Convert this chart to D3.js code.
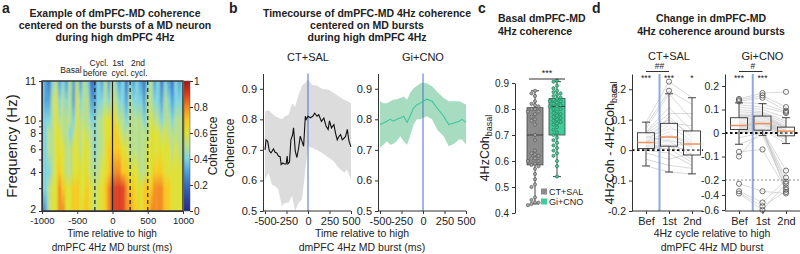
<!DOCTYPE html>
<html>
<head>
<meta charset="utf-8">
<script src="https://cdn.jsdelivr.net/npm/d3@7"></script>
<style>
  body { margin: 0; background: #fff; }
  svg text { font-family: "Liberation Sans", Arial, sans-serif; fill: #222; }
</style>
</head>
<body>
<div id="fig"></div>
<script>
// ---------- panel a : coherence heatmap (values 0-9 -> 0.0-0.9) ----------
var hmFreqs = [11, 10.5, 10, 8, 6, 4, 3, 2];
var hmRows = [
  "43245" + "34353" + "53542" + "24353" + "64342" + "43432" + "45342" + "43243" + "4",
  "43356" + "45453" + "64553" + "34454" + "65443" + "54443" + "55443" + "54344" + "4",
  "44456" + "55554" + "65554" + "45566" + "76554" + "55554" + "56554" + "55455" + "5",
  "44556" + "65545" + "65655" + "45566" + "77655" + "55555" + "56665" + "65555" + "5",
  "44556" + "66556" + "65665" + "45567" + "77766" + "55555" + "66666" + "66565" + "5",
  "44456" + "76556" + "66665" + "55667" + "88877" + "66655" + "66777" + "66666" + "6",
  "44566" + "87667" + "76676" + "56678" + "99998" + "77667" + "77888" + "77666" + "6",
  "23566" + "88667" + "76776" + "56678" + "99998" + "87767" + "78888" + "77666" + "6"
];
var hmTimes = d3.range(-1000, 1001, 50);
var hmMarkers = [-250, 250, 500];

// ---------- panel b : 4Hz coherence timecourse ----------
var ctTimes = [-500,-488,-469,-449,-430,-402,-383,-363,-344,-324,-312,-293,-273,-254,-242,-234,-215,-199,-180,-168,-148,-129,-109,-90,-70,-51,-31,-20,0,27,55,78,105,125,156,184,211,234,250,273,301,320,340,359,379,398,418,437,457,477,500];
var ctMean = [0.70,0.733,0.728,0.696,0.69,0.703,0.692,0.69,0.68,0.678,0.652,0.657,0.654,0.654,0.68,0.654,0.66,0.733,0.748,0.772,0.696,0.675,0.707,0.745,0.728,0.712,0.81,0.80,0.81,0.805,0.81,0.82,0.81,0.815,0.793,0.804,0.777,0.767,0.795,0.772,0.783,0.755,0.733,0.744,0.75,0.733,0.738,0.744,0.767,0.728,0.71];
var bandTimes = [-500,-460,-420,-380,-345,-305,-265,-225,-185,-150,-110,-70,-30,0,45,105,165,240,300,360,420,455,500];
var ctUpper = [0.826,0.83,0.82,0.81,0.805,0.80,0.81,0.815,0.853,0.84,0.88,0.91,0.92,0.93,0.913,0.91,0.90,0.897,0.886,0.875,0.864,0.86,0.853];
var ctLower = [0.603,0.625,0.587,0.58,0.57,0.516,0.527,0.527,0.55,0.50,0.527,0.538,0.636,0.712,0.707,0.70,0.69,0.674,0.663,0.64,0.625,0.636,0.603];
var giMean  = [0.783,0.788,0.794,0.80,0.794,0.80,0.804,0.81,0.79,0.81,0.837,0.848,0.853,0.859,0.866,0.859,0.837,0.81,0.783,0.788,0.794,0.80,0.79];
var giUpper = [0.859,0.853,0.853,0.859,0.864,0.866,0.87,0.875,0.864,0.886,0.902,0.91,0.918,0.92,0.918,0.908,0.89,0.87,0.859,0.859,0.859,0.855,0.848];
var giLower = [0.707,0.717,0.728,0.717,0.72,0.728,0.745,0.728,0.717,0.745,0.783,0.80,0.80,0.804,0.81,0.80,0.766,0.745,0.712,0.72,0.734,0.734,0.717];

// ---------- panel c : basal coherence per recording ----------
var groups = ["CT+SAL", "Gi+CNO"];
var basalCT = [0.87,0.86,0.85,0.83,0.82,0.815,0.81,0.80,0.80,0.79,0.79,0.78,0.77,0.76,0.755,0.74,0.70,0.68,0.64,0.63,0.625,0.62,0.61,0.61,0.60,0.60,0.59,0.585,0.58,0.57,0.55,0.53,0.51,0.50,0.46,0.45,0.44,0.44,0.435,0.43];
var basalGi = [0.91,0.905,0.89,0.88,0.87,0.865,0.86,0.855,0.85,0.845,0.84,0.835,0.83,0.83,0.825,0.82,0.815,0.81,0.81,0.80,0.80,0.79,0.785,0.78,0.775,0.77,0.765,0.76,0.755,0.75,0.745,0.74,0.73,0.72,0.71,0.70,0.69,0.68,0.67,0.66,0.65,0.64,0.63,0.62,0.60,0.58,0.54];
var basalBox = [[0.435, 0.585, 0.70, 0.805, 0.87], [0.54, 0.70, 0.81, 0.84, 0.905]]; // lo, q1, med, q3, hi

// ---------- panel d : change around bursts ----------
var cycles = ["Bef", "1st", "2nd"];
var ctPairs = [
  [0.09,0.225,0.172],[0.08,0.195,0.15],[0.07,0.185,0.10],[0.06,0.14,0.063],[0.058,0.12,0.12],
  [0.055,0.10,0.05],[0.05,0.088,0.08],[0.045,0.03,0.02],[0.04,0.07,0.06],[0.035,0.08,0.03],
  [0.03,0.06,-0.016],[0.028,0.05,0.025],[0.025,0.045,0.02],[0.022,0.11,0.04],[0.02,0.035,0.01],
  [0.015,0.03,-0.02],[0.012,0.02,0.015],[0.01,0.015,-0.03],[0.006,0.012,0.0],[0.005,0.005,-0.04],
  [0.0,-0.01,-0.05],[-0.01,-0.03,-0.01],[-0.03,-0.05,-0.06],[-0.052,-0.072,-0.078]
];
var giPairs = [
  [0.145,0.17,0.175],[0.14,0.16,0.11],[0.135,0.15,0.095],[0.13,0.125,0.09],[0.12,0.11,0.085],
  [0.11,0.10,0.065],[0.10,0.09,0.05],[0.09,0.085,0.04],[0.08,0.08,0.03],[0.075,0.075,0.025],
  [0.07,0.072,0.02],[0.065,0.07,0.02],[0.06,0.065,0.015],[0.055,0.06,0.01],[0.05,0.055,0.01],
  [0.045,0.05,0.008],[0.04,0.048,0.005],[0.035,0.045,0.0],[0.032,0.042,0.0],[0.03,0.04,-0.005],
  [0.028,0.038,-0.01],[0.025,0.035,-0.012],[0.022,0.03,-0.015],[0.02,0.025,-0.02],[0.018,0.02,-0.03],
  [0.015,0.015,-0.045],[0.01,0.012,-0.16],[0.005,0.01,-0.19],[0.0,0.005,-0.22],[-0.02,0.0,-0.25],
  [-0.048,-0.01,-0.3],[-0.08,-0.07,-0.33],[-0.1,0.02,-0.36],[-0.25,-0.35,-0.38],[-0.35,-0.5,-0.2],
  [-0.37,-0.55,-0.35],[-0.38,-0.6,-0.25]
];
var ctBox = [[-0.052,0.005,0.025,0.057,0.092],[-0.072,0.013,0.043,0.088,0.185],[-0.078,-0.016,0.02,0.063,0.172]];
var giBox = [[-0.048,0.015,0.032,0.065,0.128],[-0.01,0.012,0.04,0.072,0.125],[-0.045,-0.012,0.008,0.025,0.065]];
var ctOut = [["1st",0.195],["1st",0.225]];
var giOut = [["Bef",0.145],["Bef",0.14],["Bef",0.135],["Bef",-0.08],["Bef",-0.1],["Bef",-0.25],["Bef",-0.35],["Bef",-0.38],
  ["1st",0.17],["1st",0.16],["1st",0.15],["1st",-0.07],["1st",-0.35],["1st",-0.5],["1st",-0.55],["1st",-0.6],
  ["2nd",0.175],["2nd",0.11],["2nd",0.095],["2nd",0.09],["2nd",0.085],["2nd",-0.16],["2nd",-0.19],["2nd",-0.22],
  ["2nd",-0.25],["2nd",-0.3],["2nd",-0.33],["2nd",-0.36],["2nd",-0.38]];

function init() {
    var svg = d3.select("#fig").append("svg")
                .attr("width", 800)
                .attr("height", 254);

    // little helper for plain text
    function label(x, y, s, size, anchor, weight) {
        return svg.append("text")
                  .attr("x", x).attr("y", y)
                  .attr("font-size", size)
                  .attr("text-anchor", anchor || "middle")
                  .attr("font-weight", weight || "normal")
                  .text(s);
    }
    function styleAxis(g, size) {
        g.attr("font-family", null).attr("font-size", size);
        g.selectAll("path.domain").attr("stroke", "#333");
        g.selectAll(".tick line").attr("stroke", "#333");
        g.selectAll(".tick text").attr("fill", "#222");
        return g;
    }
    // plain hyphen instead of the unicode minus d3 uses
    function hy(f) { return function(d) { return f(d).replace("\u2212", "-"); }; }

    // colour map similar to matlab jet
    var jet = d3.scaleLinear()
        .domain([0, 0.15, 0.3, 0.4, 0.5, 0.6, 0.7, 0.8, 0.9, 1])
        .range(["#262a8c", "#2f55b5", "#4aa0dc", "#7dd3e0", "#b5de8c", "#dde030", "#f8c81c", "#f28a1e", "#dc3a1a", "#a01818"]);

    // ================= panel a =================
    label(2, 13, "a", 14, "start", "bold");
    ["Example of dmPFC-MD coherence", "centered on the bursts of a MD neuron", "during high dmPFC 4Hz"]
        .forEach(function(s, i) { label(115, 17 + i * 12, s, 10.5, "middle", "bold"); });

    var xA = d3.scaleLinear().domain([-1000, 1000]).range([42, 183]);
    var yA = d3.scaleLog().domain([2, 10, 11]).range([211, 120.5, 81]);
    var top = yA(11), bot = yA(2);

    var defs = svg.append("defs");
    defs.append("clipPath").attr("id", "hmclip")
        .append("rect").attr("x", xA(-1000)).attr("y", top)
        .attr("width", xA(1000) - xA(-1000)).attr("height", bot - top);
    defs.append("filter").attr("id", "hblur")
        .attr("x", "-5%").attr("width", "110%")
        .append("feGaussianBlur").attr("stdDeviation", "1.3 0");

    hmTimes.forEach(function(t, i) {
        var g = defs.append("linearGradient").attr("id", "hg" + i)
                    .attr("x1", 0).attr("y1", 0).attr("x2", 0).attr("y2", 1);
        hmFreqs.forEach(function(f, r) {
            g.append("stop")
             .attr("offset", (yA(f) - top) / (bot - top))
             .attr("stop-color", jet(+hmRows[r][i] / 10));
        });
    });

    svg.append("g").attr("clip-path", "url(#hmclip)")
       .append("g").attr("filter", "url(#hblur)")
       .selectAll("rect")
       .data(hmTimes)
       .enter()
       .append("rect")
       .attr("x", function(t) { return xA(t - 25 - (t === -1000 ? 60 : 0)); })
       .attr("width", function(t) { return xA(t + 26 + (t === 1000 ? 60 : 0)) - xA(t - 25 - (t === -1000 ? 60 : 0)); })
       .attr("y", top)
       .attr("height", bot - top)
       .attr("fill", function(t, i) { return "url(#hg" + i + ")"; });

    svg.append("line").attr("x1", xA(0)).attr("x2", xA(0)).attr("y1", top).attr("y2", bot)
       .attr("stroke", "#222").attr("stroke-width", 1.2);
    svg.selectAll("line.mk").data(hmMarkers).enter().append("line")
       .attr("x1", function(d) { return xA(d); }).attr("x2", function(d) { return xA(d); })
       .attr("y1", top).attr("y2", bot)
       .attr("stroke", "#222").attr("stroke-width", 1.2).attr("stroke-dasharray", "4,3");
    svg.append("rect").attr("x", xA(-1000)).attr("y", top)
       .attr("width", xA(1000) - xA(-1000)).attr("height", bot - top)
       .attr("fill", "none").attr("stroke", "#333").attr("stroke-width", 1.5);

    label(71, 73, "Basal", 8.5);
    label(99, 66, "Cycl.", 8.5); label(95, 76, "before", 8.5);
    label(118, 66, "1st", 8.5);  label(120, 76, "cycl.", 8.5);
    label(138, 66, "2nd", 8.5);  label(139, 76, "cycl.", 8.5);

    styleAxis(svg.append("g").attr("transform", "translate(0," + bot + ")")
       .call(d3.axisBottom(xA).tickValues([-1000, -500, 0, 500, 1000]).tickSize(3).tickPadding(3).tickSizeOuter(0)
               .tickFormat(hy(d3.format("d")))), 9.5);
    var gyA = styleAxis(svg.append("g").attr("transform", "translate(" + xA(-1000) + ",0)")
       .call(d3.axisLeft(yA).tickValues([2, 3, 4, 5, 6, 7, 8, 9, 10, 11]).tickSize(3).tickSizeOuter(0)
               .tickFormat(function(d) { return [2, 4, 6, 8, 10, 11].indexOf(d) >= 0 ? d : ""; })), 10.5);
    // lift the bottom label a touch so it clears the -1000 below it
    gyA.selectAll(".tick text").filter(function(d) { return d === 2; }).attr("dy", "0.1em");
    label(0, 0, "Frequency (Hz)", 15).attr("transform", "translate(17,146) rotate(-90)");
    label(112, 237, "Time relative to high", 10);
    label(112, 251, "dmPFC 4Hz MD burst (ms)", 10);

    // colour bar
    var cb = defs.append("linearGradient").attr("id", "cbar")
                 .attr("x1", 0).attr("y1", 1).attr("x2", 0).attr("y2", 0);
    d3.range(0, 1.01, 0.1).forEach(function(v) {
        cb.append("stop").attr("offset", v).attr("stop-color", jet(v));
    });
    var yCb = d3.scaleLinear().domain([0, 1]).range([bot, top]);
    svg.append("rect").attr("x", 184).attr("y", top).attr("width", 6).attr("height", bot - top)
       .attr("fill", "url(#cbar)").attr("stroke", "#555").attr("stroke-width", 0.5);
    var gcb = svg.append("g").attr("transform", "translate(190,0)")
       .call(d3.axisRight(yCb).tickValues([0, 0.2, 0.4, 0.6, 0.8, 1]).tickSize(3).tickPadding(1)
               .tickFormat(function(d) { return d === 0 || d === 1 ? d : d3.format(".1f")(d); }));
    styleAxis(gcb, 10).select("path.domain").remove();
    label(0, 0, "Coherence", 12).attr("transform", "translate(217,146) rotate(-90)");

    // ================= panel b =================
    label(229, 13, "b", 14, "start", "bold");
    ["Timecourse of dmPFC-MD 4Hz coherence", "centered on MD bursts", "during high dmPFC 4Hz"]
        .forEach(function(s, i) { label(367, 17 + i * 12, s, 10.5, "middle", "bold"); });

    var yB = d3.scaleLinear().domain([0.5, 0.95]).range([211, 73.5]);
    var panelsB = [
        {x0: 265, x1: 351, ax: 263, name: "CT+SAL", mean: ctMean, times: ctTimes, up: ctUpper, lo: ctLower,
         band: "#dcdcdc", line: "#111"},
        {x0: 380, x1: 466, ax: 378, name: "Gi+CNO", mean: giMean, times: bandTimes, up: giUpper, lo: giLower,
         band: "#a7dcc0", line: "#3cc79e"}
    ];
    panelsB.forEach(function(p) {
        var x = d3.scaleLinear().domain([-500, 500]).range([p.x0, p.x1]);
        var area = d3.area()
            .x(function(d, i) { return x(bandTimes[i]); })
            .y0(function(d, i) { return yB(p.lo[i]); })
            .y1(function(d) { return yB(d); });
        svg.append("path").datum(p.up).attr("d", area).attr("fill", p.band);
        svg.append("line").attr("x1", x(0)).attr("x2", x(0)).attr("y1", yB(0.95)).attr("y2", yB(0.5))
           .attr("stroke", "#4a6fd0").attr("stroke-width", 1);
        var line = d3.line()
            .x(function(d, i) { return x(p.times[i]); })
            .y(function(d) { return yB(d); });
        svg.append("path").datum(p.mean).attr("d", line)
           .attr("fill", "none").attr("stroke", p.line).attr("stroke-width", 1.1);
        styleAxis(svg.append("g").attr("transform", "translate(" + p.ax + ",0)")
           .call(d3.axisLeft(yB).tickValues([0.5, 0.6, 0.7, 0.8, 0.9]).tickSize(3).tickSizeOuter(0)
                   .tickFormat(d3.format(".1f"))), 11);
        var gx = svg.append("g").attr("transform", "translate(0,211)")
           .call(d3.axisBottom(x).tickValues([-500, -250, 0, 250, 500]).tickSize(3).tickSizeOuter(0)
                   .tickFormat(hy(d3.format("d"))));
        styleAxis(gx, 11);
        gx.select("path.domain").attr("d", "M" + p.ax + ",0H" + p.x1);
        label((p.x0 + p.x1) / 2, 61, p.name, 11);
    });
    label(0, 0, "Coherence", 12).attr("transform", "translate(234,148) rotate(-90)");
    label(362, 237, "Time relative to high", 10.5);
    label(362, 251, "dmPFC 4Hz MD burst (ms)", 10.5);

    // ================= panel c =================
    label(478, 13, "c", 14, "start", "bold");
    label(498, 22, "Basal dmPFC-MD", 10.5, "start", "bold");
    label(498, 35, "4Hz coherence", 10.5, "start", "bold");

    var yC = d3.scaleLinear().domain([0.4, 0.9]).range([213, 83]);
    var xC = d3.scalePoint().domain(groups).range([535, 557]);
    var fillC = ["#8c8c8c", "#41cc9b"], strokeC = ["#4d4d4d", "#1f6e4e"];
    var ptFill = ["#a6a6a6", "#46c896"];

    [basalCT, basalGi].forEach(function(vals, k) {
        var cx = xC(groups[k]), b = basalBox[k];
        svg.append("line").attr("x1", cx).attr("x2", cx).attr("y1", yC(b[0])).attr("y2", yC(b[4]))
           .attr("stroke", "#444");
        [b[0], b[4]].forEach(function(v) {
            svg.append("line").attr("x1", cx - 4).attr("x2", cx + 4).attr("y1", yC(v)).attr("y2", yC(v))
               .attr("stroke", "#444");
        });
        svg.append("rect").attr("x", cx - 8).attr("width", 16)
           .attr("y", yC(b[3])).attr("height", yC(b[1]) - yC(b[3]))
           .attr("fill", fillC[k]).attr("stroke", "#444").attr("stroke-width", 0.8);
        svg.append("line").attr("x1", cx - 8).attr("x2", cx + 8).attr("y1", yC(b[2])).attr("y2", yC(b[2]))
           .attr("stroke", "#333").attr("stroke-width", 0.9);

        // simple deterministic dodge so dots do not sit on each other
        var placed = [], r = 1.6;
        var pts = vals.slice().sort(d3.descending).map(function(v) {
            var py = yC(v), offs = [0, -1, 1, -2, 2, -3, 3];
            for (var j = 0; j < offs.length; j++) {
                var px = cx + offs[j] * 2.2 * r;
                var free = placed.every(function(q) {
                    return (q[0] - px) * (q[0] - px) + (q[1] - py) * (q[1] - py) >= 4 * r * r;
                });
                if (free) { placed.push([px, py]); return [px, py]; }
            }
            return [cx, py];
        });
        svg.selectAll("circle.c" + k).data(pts).enter().append("circle")
           .attr("cx", function(d) { return d[0]; })
           .attr("cy", function(d) { return d[1]; })
           .attr("r", r)
           .attr("fill", ptFill[k]).attr("stroke", strokeC[k]).attr("stroke-width", 0.6);
    });
    styleAxis(svg.append("g").attr("transform", "translate(515,0)")
       .call(d3.axisLeft(yC).tickValues([0.4, 0.5, 0.6, 0.7, 0.8, 0.9]).tickSize(3).tickSizeOuter(0)
               .tickFormat(d3.format(".1f"))), 10);
    svg.append("line").attr("x1", 529).attr("x2", 565).attr("y1", 79).attr("y2", 79).attr("stroke", "#333");
    label(547, 76, "***", 9);
    var cText = label(0, 0, "", 12.5).attr("transform", "translate(489,148) rotate(-90)");
    cText.append("tspan").text("4HzCoh");
    cText.append("tspan").attr("font-size", 9).attr("dy", 3).text("basal");
    groups.forEach(function(g, k) {
        svg.append("rect").attr("x", 541).attr("y", 188.5 + k * 10).attr("width", 6).attr("height", 6)
           .attr("fill", fillC[k]);
        label(549, 195 + k * 10, g, 9, "start");
    });

    // ================= panel d =================
    label(592, 13, "d", 14, "start", "bold");
    label(711, 22, "Change in dmPFC-MD", 10.5, "middle", "bold");
    label(711, 35, "4Hz coherence around bursts", 10.5, "middle", "bold");

    var panelsD = [
        {name: "CT+SAL", ax: 632, xEnd: 703, range: [646, 692], pairs: ctPairs, box: ctBox, out: ctOut,
         y: d3.scaleLinear().domain([-0.2, 0.25]).range([211, 74]),
         ticks: [-0.2, -0.1, 0, 0.1, 0.2], sig: "##", stars: ["***", "***", "*"]},
        {name: "Gi+CNO", ax: 725, xEnd: 800, range: [739, 786], pairs: giPairs, box: giBox, out: giOut,
         y: d3.scaleLinear().domain([-0.6, -0.4, -0.2, 0.2, 0.25]).range([210, 195, 180, 86, 74]),
         ticks: [-0.6, -0.4, -0.2, -0.1, 0, 0.1, 0.2], sig: "#", stars: ["***", "***", ""]}
    ];
    panelsD.forEach(function(p) {
        var x = d3.scalePoint().domain(cycles).range(p.range);
        var y = p.y;
        var blueX = (x("Bef") + x("1st")) / 2 + 2;

        var line = d3.line()
            .x(function(d, i) { return x(cycles[i]); })
            .y(function(d) { return y(d); });
        svg.append("g").selectAll("path").data(p.pairs).enter().append("path")
           .attr("d", line).attr("fill", "none").attr("stroke", "#b3b3b3").attr("stroke-width", 0.5);

        svg.append("line").attr("x1", blueX).attr("x2", blueX).attr("y1", y(0.25)).attr("y2", 211)
           .attr("stroke", "#8fa8e0").attr("stroke-width", 2);

        svg.append("line").attr("x1", p.ax).attr("x2", p.xEnd).attr("y1", y(0)).attr("y2", y(0))
           .attr("stroke", "#111").attr("stroke-width", 1.8).attr("stroke-dasharray", "2.5,2.5");
        if (p.name === "Gi+CNO") {
            svg.append("line").attr("x1", p.ax).attr("x2", p.xEnd).attr("y1", y(-0.2)).attr("y2", y(-0.2))
               .attr("stroke", "#666").attr("stroke-width", 0.7).attr("stroke-dasharray", "2,2");
        }

        p.box.forEach(function(b, k) {
            var cx = x(cycles[k]), hw = 8.5;
            svg.append("line").attr("x1", cx).attr("x2", cx).attr("y1", y(b[0])).attr("y2", y(b[1])).attr("stroke", "#444");
            svg.append("line").attr("x1", cx).attr("x2", cx).attr("y1", y(b[3])).attr("y2", y(b[4])).attr("stroke", "#444");
            [b[0], b[4]].forEach(function(v) {
                svg.append("line").attr("x1", cx - 4).attr("x2", cx + 4).attr("y1", y(v)).attr("y2", y(v)).attr("stroke", "#444");
            });
            svg.append("rect").attr("x", cx - hw).attr("width", 2 * hw)
               .attr("y", y(b[3])).attr("height", y(b[1]) - y(b[3]))
               .attr("fill", "rgba(255,255,255,0.35)").attr("stroke", "#333").attr("stroke-width", 0.9);
            svg.append("line").attr("x1", cx - hw).attr("x2", cx + hw).attr("y1", y(b[2])).attr("y2", y(b[2]))
               .attr("stroke", "#f0905a").attr("stroke-width", 1.5);
            label(cx, 81, p.stars[k], 8.5);
        });
        svg.selectAll(null).data(p.out).enter().append("circle")
           .attr("cx", function(d) { return x(d[0]); })
           .attr("cy", function(d) { return y(d[1]); })
           .attr("r", 2.6).attr("fill", "none").attr("stroke", "#555").attr("stroke-width", 0.8);

        styleAxis(svg.append("g").attr("transform", "translate(" + p.ax + ",0)")
           .call(d3.axisLeft(y).tickValues(p.ticks).tickSize(3).tickSizeOuter(0)
                   .tickFormat(hy(function(d) { return d === 0 ? "0" : d3.format(".1f")(d); }))), 10.5);
        var gx = svg.append("g").attr("transform", "translate(0,211)")
           .call(d3.axisBottom(x).tickSize(3).tickSizeOuter(0));
        styleAxis(gx, 11);
        gx.select("path.domain").attr("d", "M" + p.ax + ",0H" + p.xEnd);

        svg.append("line").attr("x1", x("Bef")).attr("x2", x("1st")).attr("y1", 71.5).attr("y2", 71.5)
           .attr("stroke", "#333");
        label((x("Bef") + x("1st")) / 2 + 2, 69, p.sig, 8.5);
        label((x("Bef") + x("2nd")) / 2, 60, p.name, 11);
    });
    var dText = label(0, 0, "", 12.5).attr("transform", "translate(614,143) rotate(-90)");
    dText.append("tspan").text("4HzCoh - 4HzCoh");
    dText.append("tspan").attr("font-size", 9).attr("dy", 3).text("basal");
    label(712, 237, "4Hz cycle relative to high", 10.5);
    label(712, 251, "dmPFC 4Hz MD burst", 10.5);
}

window.onload = init;
</script>
</body>
</html>
